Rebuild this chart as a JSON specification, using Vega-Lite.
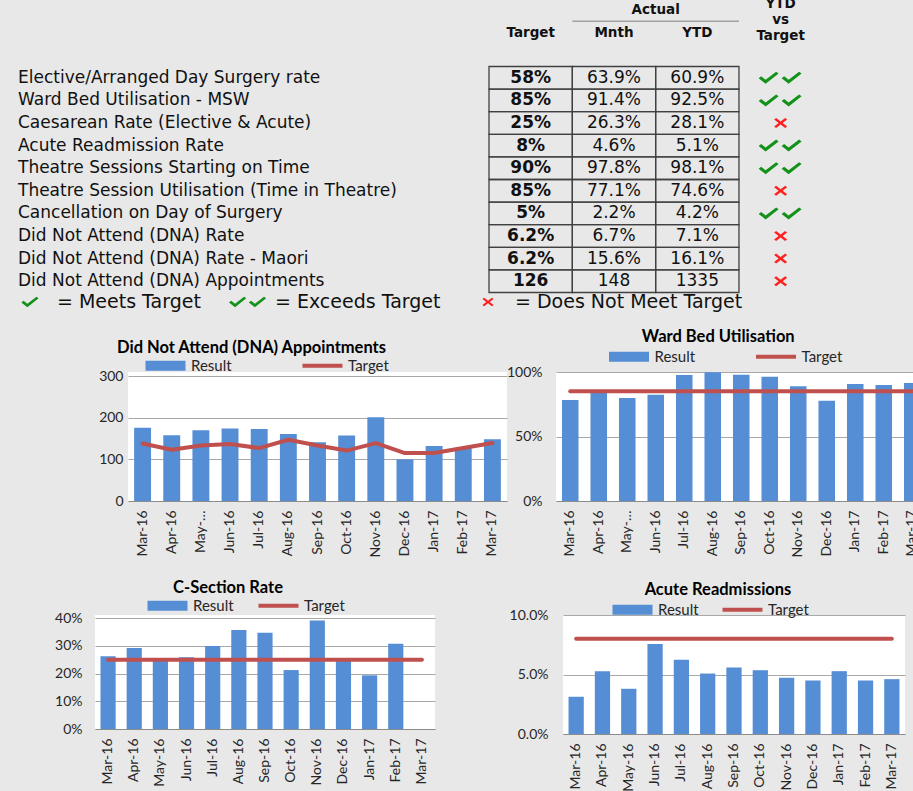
{
  "$schema": "https://vega.github.io/schema/vega-lite/v6.json",
  "background": "#e8e8e8",
  "padding": 0,
  "spacing": 0,
  "resolve": {"scale": {"color": "independent", "shape": "independent"}, "legend": {"color": "independent", "shape": "independent"}},
  "config": {
    "view": {"stroke": null},
    "font": "Lato",
    "axis": {"labelFont": "Lato", "labelFontSize": 14, "labelColor": "#262626", "ticks": false, "domainColor": "#8c8c8c", "gridColor": "#a8a8a8", "gridWidth": 1},
    "axisX": {"labelAngle": -90, "labelPadding": 9, "labelOverlap": false, "grid": false, "domain": true},
    "axisY": {"domain": false, "grid": true},
    "legend": {"labelFont": "Lato", "labelFontSize": 15, "labelColor": "#262626", "padding": 0, "orient": "none", "direction": "horizontal", "symbolSize": 100, "labelOffset": 3}
  },
  "datasets": {
    "table": [
      {"row": 1, "metric": "Elective/Arranged Day Surgery rate", "Target": "58%", "Mnth": "63.9%", "YTD": "60.9%", "status": "Exceeds"},
      {"row": 2, "metric": "Ward Bed Utilisation - MSW", "Target": "85%", "Mnth": "91.4%", "YTD": "92.5%", "status": "Exceeds"},
      {"row": 3, "metric": "Caesarean Rate (Elective & Acute)", "Target": "25%", "Mnth": "26.3%", "YTD": "28.1%", "status": "Not"},
      {"row": 4, "metric": "Acute Readmission Rate", "Target": "8%", "Mnth": "4.6%", "YTD": "5.1%", "status": "Exceeds"},
      {"row": 5, "metric": "Theatre Sessions Starting on Time", "Target": "90%", "Mnth": "97.8%", "YTD": "98.1%", "status": "Exceeds"},
      {"row": 6, "metric": "Theatre Session Utilisation (Time in Theatre)", "Target": "85%", "Mnth": "77.1%", "YTD": "74.6%", "status": "Not"},
      {"row": 7, "metric": "Cancellation on Day of Surgery", "Target": "5%", "Mnth": "2.2%", "YTD": "4.2%", "status": "Exceeds"},
      {"row": 8, "metric": "Did Not Attend (DNA) Rate", "Target": "6.2%", "Mnth": "6.7%", "YTD": "7.1%", "status": "Not"},
      {"row": 9, "metric": "Did Not Attend (DNA) Rate - Maori", "Target": "6.2%", "Mnth": "15.6%", "YTD": "16.1%", "status": "Not"},
      {"row": 10, "metric": "Did Not Attend (DNA) Appointments", "Target": "126", "Mnth": "148", "YTD": "1335", "status": "Not"}
    ],
    "dna": [
      {"month": "Mar-16", "result": 176, "target": 138},
      {"month": "Apr-16", "result": 158, "target": 123},
      {"month": "May-16", "result": 170, "target": 133},
      {"month": "Jun-16", "result": 174, "target": 137},
      {"month": "Jul-16", "result": 173, "target": 127},
      {"month": "Aug-16", "result": 161, "target": 147},
      {"month": "Sep-16", "result": 141, "target": 133},
      {"month": "Oct-16", "result": 157, "target": 121},
      {"month": "Nov-16", "result": 201, "target": 139},
      {"month": "Dec-16", "result": 100, "target": 115},
      {"month": "Jan-17", "result": 132, "target": 115},
      {"month": "Feb-17", "result": 128, "target": 127},
      {"month": "Mar-17", "result": 148, "target": 139}
    ],
    "ward": [
      {"month": "Mar-16", "result": 0.783, "target": 0.85},
      {"month": "Apr-16", "result": 0.85, "target": 0.85},
      {"month": "May-16", "result": 0.798, "target": 0.85},
      {"month": "Jun-16", "result": 0.824, "target": 0.85},
      {"month": "Jul-16", "result": 0.977, "target": 0.85},
      {"month": "Aug-16", "result": 0.998, "target": 0.85},
      {"month": "Sep-16", "result": 0.979, "target": 0.85},
      {"month": "Oct-16", "result": 0.964, "target": 0.85},
      {"month": "Nov-16", "result": 0.889, "target": 0.85},
      {"month": "Dec-16", "result": 0.778, "target": 0.85},
      {"month": "Jan-17", "result": 0.907, "target": 0.85},
      {"month": "Feb-17", "result": 0.899, "target": 0.85},
      {"month": "Mar-17", "result": 0.914, "target": 0.85}
    ],
    "csec": [
      {"month": "Mar-16", "result": 0.263, "target": 0.25},
      {"month": "Apr-16", "result": 0.293, "target": 0.25},
      {"month": "May-16", "result": 0.248, "target": 0.25},
      {"month": "Jun-16", "result": 0.259, "target": 0.25},
      {"month": "Jul-16", "result": 0.300, "target": 0.25},
      {"month": "Aug-16", "result": 0.358, "target": 0.25},
      {"month": "Sep-16", "result": 0.348, "target": 0.25},
      {"month": "Oct-16", "result": 0.213, "target": 0.25},
      {"month": "Nov-16", "result": 0.392, "target": 0.25},
      {"month": "Dec-16", "result": 0.256, "target": 0.25},
      {"month": "Jan-17", "result": 0.194, "target": 0.25},
      {"month": "Feb-17", "result": 0.308, "target": 0.25},
      {"month": "Mar-17", "result": null, "target": 0.25}
    ],
    "acute": [
      {"month": "Mar-16", "result": 0.0313, "target": 0.08},
      {"month": "Apr-16", "result": 0.0528, "target": 0.08},
      {"month": "May-16", "result": 0.0380, "target": 0.08},
      {"month": "Jun-16", "result": 0.0757, "target": 0.08},
      {"month": "Jul-16", "result": 0.0623, "target": 0.08},
      {"month": "Aug-16", "result": 0.0508, "target": 0.08},
      {"month": "Sep-16", "result": 0.0559, "target": 0.08},
      {"month": "Oct-16", "result": 0.0536, "target": 0.08},
      {"month": "Nov-16", "result": 0.0472, "target": 0.08},
      {"month": "Dec-16", "result": 0.0450, "target": 0.08},
      {"month": "Jan-17", "result": 0.0528, "target": 0.08},
      {"month": "Feb-17", "result": 0.0450, "target": 0.08},
      {"month": "Mar-17", "result": 0.0461, "target": 0.08}
    ]
  },
  "vconcat": [
    {
      "hconcat": [
        {"width": 18, "height": 1, "data": {"values": []}, "mark": "point"},
        {
          "width": 471, "height": 328,
          "data": {"name": "table"},
          "mark": {"type": "text", "align": "left", "baseline": "middle", "font": "DejaVu Sans", "fontSize": 17, "color": "#111111"},
          "encoding": {
            "x": {"datum": "L", "type": "nominal", "bandPosition": 0, "scale": {"type": "band", "paddingInner": 0, "paddingOuter": 0}, "axis": null},
            "y": {"field": "row", "type": "ordinal", "scale": {"type": "band", "domain": [-1, 0, 1, 2, 3, 4, 5, 6, 7, 8, 9, 10, 11], "paddingInner": 0, "paddingOuter": 0.757, "align": 0.623}, "axis": null},
            "text": {"field": "metric"}
          }
        },
        {
          "width": 333.3, "height": 328,
          "data": {"name": "table"},
          "encoding": {
            "y": {"field": "row", "type": "ordinal", "scale": {"type": "band", "domain": [-1, 0, 1, 2, 3, 4, 5, 6, 7, 8, 9, 10, 11], "paddingInner": 0, "paddingOuter": 0.757, "align": 0.623}, "axis": null}
          },
          "layer": [
            {
              "transform": [{"fold": ["Target", "Mnth", "YTD"], "as": ["col", "val"]}],
              "mark": {"type": "rect", "fill": "transparent", "stroke": "#404040", "strokeWidth": 1.3},
              "encoding": {
                "x": {"field": "col", "type": "nominal", "scale": {"type": "band", "domain": ["Target", "Mnth", "YTD", "Status"], "paddingInner": 0, "paddingOuter": 0}, "axis": null}
              }
            },
            {
              "mark": {"type": "text", "font": "DejaVu Sans", "fontSize": 17, "fontWeight": "bold", "color": "#111111"},
              "encoding": {"x": {"datum": "Target", "type": "nominal"}, "text": {"field": "Target"}}
            },
            {
              "mark": {"type": "text", "font": "DejaVu Sans", "fontSize": 17, "color": "#111111"},
              "encoding": {"x": {"datum": "Mnth", "type": "nominal"}, "text": {"field": "Mnth"}}
            },
            {
              "mark": {"type": "text", "font": "DejaVu Sans", "fontSize": 17, "color": "#111111"},
              "encoding": {"x": {"datum": "YTD", "type": "nominal"}, "text": {"field": "YTD"}}
            },
            {
              "mark": {"type": "point", "filled": true, "size": 1936, "opacity": 1, "strokeWidth": 0},
              "encoding": {
                "x": {"datum": "Status", "type": "nominal"},
                "shape": {"field": "status", "type": "nominal", "legend": null,
                  "scale": {"domain": ["Meets", "Exceeds", "Not"], "range": [
                    "M-0.455,0.022L-0.341,-0.068L-0.137,0.091L0.34,-0.273L0.454,-0.191L-0.137,0.273Z",
                    "M-1,0.022L-0.886,-0.068L-0.682,0.091L-0.205,-0.273L-0.091,-0.191L-0.682,0.273ZM0.045,0.022L0.159,-0.068L0.363,0.091L0.84,-0.273L0.954,-0.191L0.363,0.273Z",
                    "M-0.295,-0.159L-0.205,-0.227L0,-0.068L0.205,-0.227L0.295,-0.159L0.091,0L0.295,0.159L0.205,0.227L0,0.068L-0.205,0.227L-0.295,0.159L-0.091,0Z"
                  ]}},
                "color": {"field": "status", "type": "nominal",
                  "scale": {"domain": ["Meets", "Exceeds", "Not"], "range": ["#13921a", "#13921a", "#ff1f1f"]},
                  "legend": {
                    "title": null, "orient": "none", "legendX": 10, "legendY": 282, "direction": "horizontal",
                    "symbolSize": 1444, "labelFont": "DejaVu Sans", "labelFontSize": 19, "labelColor": "#111111", "labelLimit": 0,
                    "labelOffset": 7, "columnPadding": 27, "padding": 0,
                    "labelExpr": "datum.value === 'Meets' ? '= Meets Target' : datum.value === 'Exceeds' ? '= Exceeds Target' : '= Does Not Meet Target'",
                    "encode": {
                      "symbols": {"update": {
                        "shape": {"signal": "datum.value === 'Meets' ? 'M-0.168,0.024L-0.045,-0.066L0.164,0.104L0.666,-0.284L0.779,-0.199L0.164,0.284Z' : datum.value === 'Exceeds' ? 'M-1.526,0.024L-1.403,-0.066L-1.194,0.104L-0.692,-0.284L-0.579,-0.199L-1.194,0.284ZM-0.473,0.024L-0.35,-0.066L-0.141,0.104L0.361,-0.284L0.474,-0.199L-0.141,0.284Z' : 'M-0.842,-0.167L-0.742,-0.237L-0.5,-0.07L-0.258,-0.237L-0.158,-0.167L-0.4,0L-0.158,0.167L-0.258,0.237L-0.5,0.07L-0.742,0.237L-0.842,0.167L-0.6,0Z'"},
                        "fill": {"signal": "datum.value === 'Not' ? '#ff1f1f' : '#13921a'"},
                        "strokeWidth": {"value": 0},
                        "opacity": {"value": 1}
                      }}
                    }
                  }
                }
              }
            },
            {
              "data": {"values": [{"h": "Target"}, {"h": "Mnth"}, {"h": "YTD"}]},
              "mark": {"type": "text", "font": "DejaVu Sans", "fontSize": 13.5, "fontWeight": "bold", "color": "#111111"},
              "encoding": {"x": {"field": "h", "type": "nominal"}, "y": {"datum": -1, "type": "ordinal"}, "text": {"field": "h"}}
            },
            {
              "data": {"values": [{"label": "Actual"}]},
              "mark": {"type": "text", "font": "DejaVu Sans", "fontSize": 13.5, "fontWeight": "bold", "color": "#111111", "dy": -22.6},
              "encoding": {"x": {"datum": "Mnth", "type": "nominal", "bandPosition": 1}, "y": {"datum": -1, "type": "ordinal"}, "text": {"field": "label"}}
            },
            {
              "data": {"values": [{"label": "YTD vs Target"}]},
              "mark": {"type": "text", "font": "DejaVu Sans", "fontSize": 13.5, "fontWeight": "bold", "color": "#111111", "lineBreak": " ", "lineHeight": 16, "dy": -28.6, "clip": true},
              "encoding": {"x": {"datum": "Status", "type": "nominal"}, "y": {"datum": -1, "type": "ordinal"}, "text": {"field": "label"}}
            },
            {
              "data": {"values": [{"label": "Actual"}]},
              "mark": {"type": "rule", "color": "#a0a0a0", "strokeWidth": 1.5},
              "encoding": {
                "x": {"datum": "Mnth", "type": "nominal", "bandPosition": 0},
                "x2": {"datum": "YTD", "bandPosition": 1},
                "y": {"datum": -1, "type": "ordinal", "bandPosition": 0}
              }
            }
          ]
        }
      ],
      "spacing": 0,
      "bounds": "flush"
    },
    {
      "hconcat": [
        {"width": 128, "height": 207, "data": {"values": []}, "mark": "point"},
        {
          "width": 379, "height": 129,
          "view": {"fill": "white"},
          "title": {"text": "Did Not Attend (DNA) Appointments", "font": "Lato", "fontSize": 16.5, "fontWeight": "bold", "color": "#000000", "anchor": "middle", "dx": -66, "offset": 2},
          "data": {"name": "dna"},
          "encoding": {"x": {"field": "month", "type": "nominal", "sort": null, "scale": {"paddingInner": 0.42, "paddingOuter": 0.21}, "axis": {"title": null, "labelExpr": "datum.value === 'May-16' ? 'May-…' : datum.value"}}},
          "layer": [
            {
              "mark": "bar",
              "encoding": {
                "y": {"field": "result", "type": "quantitative", "scale": {"domain": [0, 309.6], "nice": false}, "axis": {"title": null, "values": [0, 100, 200, 300], "labelPadding": 5}},
                "color": {"datum": "Result", "scale": {"domain": ["Result", "Target"], "range": ["#558ED5", "#C0504D"]},
                  "legend": {"title": null, "legendX": 45, "legendY": -14, "columnPadding": 70,
                    "encode": {"symbols": {"update": {
                      "shape": {"signal": "datum.value === 'Result' ? 'M-7,-1H1V1H-7Z' : 'M-7,-0.4H1V0.4H-7Z'"},
                      "fill": {"signal": "datum.value === 'Result' ? '#558ED5' : '#C0504D'"},
                      "stroke": {"value": "transparent"}, "strokeWidth": {"value": 0}, "opacity": {"value": 1}}}}}}
              }
            },
            {
              "mark": {"type": "line", "strokeWidth": 4, "strokeCap": "round", "strokeJoin": "round"},
              "encoding": {"y": {"field": "target", "type": "quantitative", "axis": {"title": null, "values": [0, 100, 200, 300], "labelPadding": 5}}, "color": {"datum": "Target"}}
            }
          ]
        },
        {"width": 48.5, "height": 1, "data": {"values": []}, "mark": "point"},
        {
          "width": 370.5, "height": 129,
          "view": {"fill": "white"},
          "title": {"text": "Ward Bed Utilisation", "font": "Lato", "fontSize": 16.5, "fontWeight": "bold", "color": "#000000", "anchor": "middle", "dx": -23, "offset": 4},
          "data": {"name": "ward"},
          "encoding": {"x": {"field": "month", "type": "nominal", "sort": null, "scale": {"paddingInner": 0.42, "paddingOuter": 0.21}, "axis": {"title": null, "labelExpr": "datum.value === 'May-16' ? 'May-…' : datum.value"}}},
          "layer": [
            {
              "mark": "bar",
              "encoding": {
                "y": {"field": "result", "type": "quantitative", "scale": {"domain": [0, 1]}, "axis": {"title": null, "values": [0, 0.5, 1], "format": ".0%", "labelPadding": 14}},
                "color": {"datum": "Result", "scale": {"domain": ["Result", "Target"], "range": ["#558ED5", "#C0504D"]},
                  "legend": {"title": null, "legendX": 80.5, "legendY": -23, "columnPadding": 60,
                    "encode": {"symbols": {"update": {
                      "shape": {"signal": "datum.value === 'Result' ? 'M-7,-1H1V1H-7Z' : 'M-7,-0.4H1V0.4H-7Z'"},
                      "fill": {"signal": "datum.value === 'Result' ? '#558ED5' : '#C0504D'"},
                      "stroke": {"value": "transparent"}, "strokeWidth": {"value": 0}, "opacity": {"value": 1}}}}}}
              }
            },
            {
              "mark": {"type": "line", "strokeWidth": 4, "strokeCap": "round", "strokeJoin": "round"},
              "encoding": {"y": {"field": "target", "type": "quantitative", "axis": {"title": null, "values": [0, 0.5, 1], "format": ".0%", "labelPadding": 14}}, "color": {"datum": "Target"}}
            }
          ]
        }
      ],
      "spacing": 0,
      "bounds": "flush",
      "resolve": {"scale": {"color": "independent"}, "legend": {"color": "independent"}}
    },
    {
      "hconcat": [
        {"width": 95, "height": 1, "data": {"values": []}, "mark": "point"},
        {
          "width": 340, "height": 114,
          "view": {"fill": "white"},
          "title": {"text": "C-Section Rate", "font": "Lato", "fontSize": 16.5, "fontWeight": "bold", "color": "#000000", "anchor": "middle", "dx": -37, "offset": 2},
          "data": {"name": "csec"},
          "encoding": {"x": {"field": "month", "type": "nominal", "sort": null, "scale": {"paddingInner": 0.42, "paddingOuter": 0.21}, "axis": {"title": null}}},
          "layer": [
            {
              "mark": "bar",
              "encoding": {
                "y": {"field": "result", "type": "quantitative", "scale": {"domain": [0, 0.412], "nice": false}, "axis": {"title": null, "values": [0, 0.1, 0.2, 0.3, 0.4], "format": ".0%", "labelPadding": 13}},
                "color": {"datum": "Result", "scale": {"domain": ["Result", "Target"], "range": ["#558ED5", "#C0504D"]},
                  "legend": {"title": null, "legendX": 80, "legendY": -17, "columnPadding": 24,
                    "encode": {"symbols": {"update": {
                      "shape": {"signal": "datum.value === 'Result' ? 'M-7,-1H1V1H-7Z' : 'M-7,-0.4H1V0.4H-7Z'"},
                      "fill": {"signal": "datum.value === 'Result' ? '#558ED5' : '#C0504D'"},
                      "stroke": {"value": "transparent"}, "strokeWidth": {"value": 0}, "opacity": {"value": 1}}}}}}
              }
            },
            {
              "mark": {"type": "line", "strokeWidth": 4, "strokeCap": "round", "strokeJoin": "round"},
              "encoding": {"y": {"field": "target", "type": "quantitative", "axis": {"title": null, "values": [0, 0.1, 0.2, 0.3, 0.4], "format": ".0%", "labelPadding": 13}}, "color": {"datum": "Target"}}
            }
          ]
        },
        {"width": 128, "height": 1, "data": {"values": []}, "mark": "point"},
        {
          "width": 342, "height": 119,
          "view": {"fill": "white"},
          "title": {"text": "Acute Readmissions", "font": "Lato", "fontSize": 16.5, "fontWeight": "bold", "color": "#000000", "anchor": "middle", "dx": -16, "offset": 4},
          "data": {"name": "acute"},
          "encoding": {"x": {"field": "month", "type": "nominal", "sort": null, "scale": {"paddingInner": 0.42, "paddingOuter": 0.21}, "axis": {"title": null}}},
          "layer": [
            {
              "mark": "bar",
              "encoding": {
                "y": {"field": "result", "type": "quantitative", "scale": {"domain": [0, 0.1]}, "axis": {"title": null, "values": [0, 0.05, 0.1], "format": ".1%", "labelPadding": 15}},
                "color": {"datum": "Result", "scale": {"domain": ["Result", "Target"], "range": ["#558ED5", "#C0504D"]},
                  "legend": {"title": null, "legendX": 77, "legendY": -13, "columnPadding": 23,
                    "encode": {"symbols": {"update": {
                      "shape": {"signal": "datum.value === 'Result' ? 'M-7,-1H1V1H-7Z' : 'M-7,-0.4H1V0.4H-7Z'"},
                      "fill": {"signal": "datum.value === 'Result' ? '#558ED5' : '#C0504D'"},
                      "stroke": {"value": "transparent"}, "strokeWidth": {"value": 0}, "opacity": {"value": 1}}}}}}
              }
            },
            {
              "mark": {"type": "line", "strokeWidth": 4, "strokeCap": "round", "strokeJoin": "round"},
              "encoding": {"y": {"field": "target", "type": "quantitative", "axis": {"title": null, "values": [0, 0.05, 0.1], "format": ".1%", "labelPadding": 15}}, "color": {"datum": "Target"}}
            }
          ]
        }
      ],
      "spacing": 0,
      "bounds": "flush",
      "resolve": {"scale": {"color": "independent"}, "legend": {"color": "independent"}}
    }
  ]
}
